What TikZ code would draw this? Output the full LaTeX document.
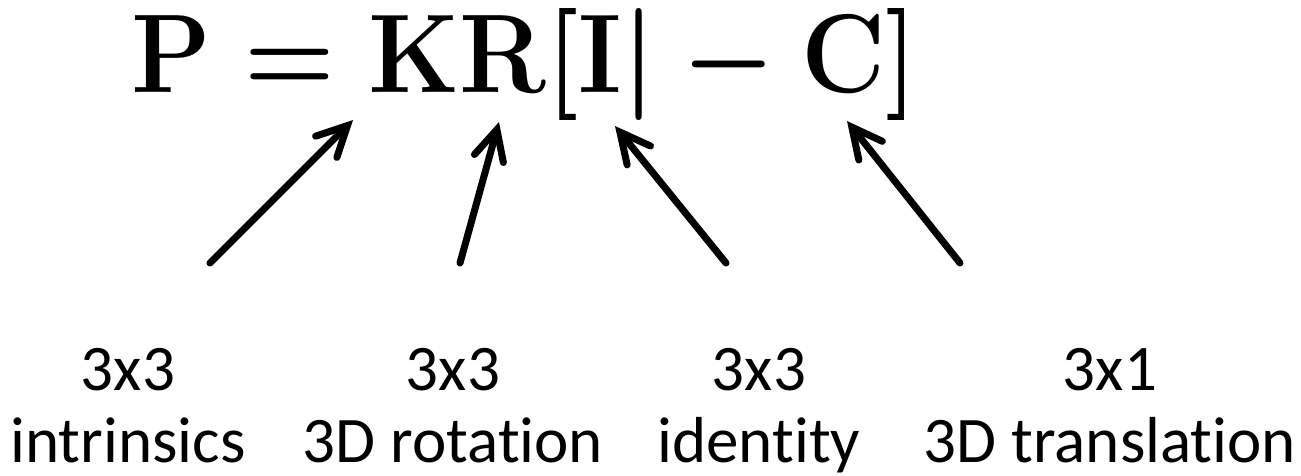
\RequirePackage{fix-cm}
\documentclass[tikz,border=0pt]{standalone}
\usepackage{amsmath}
\usepackage{fontspec}
\usetikzlibrary{arrows.meta,positioning,calc}
\newfontfamily\labelfont[Ligatures=NoCommon]{Carlito}
\tikzstyle{dim} = [font=\labelfont\fontsize{18.5}{20.5}\selectfont,
    align=center, inner sep=0pt, anchor=north]
\tikzstyle{pointer} = [-{Straight Barb[length=0.3cm, width=0.3cm, line cap=round]},
    line width=2pt, line cap=round]

\begin{document}
\begin{tikzpicture}
  \useasboundingbox (0,0) rectangle (13.01,-4.75);
  \node[inner sep=0pt, anchor=base west, yscale=1.08, transform shape,
        font=\fontsize{29.5}{34}\selectfont\boldmath] (eq) at (1.31,-0.92)
    {$\mathbf{P}=\mathbf{KR}[\mathbf{I}|-\mathbf{C}]$};

  \node[dim] (intr) at (1.28,-3.48) {3x3\\intrinsics};
  \node[dim] (rot) at (4.53,-3.48) {3x3\\3D rotation};
  \node[dim] (iden) at (7.59,-3.48) {3x3\\identity};
  \node[dim] (trans) at (11.10,-3.48) {3x1\\3D translation};

  \coordinate (k) at (3.53,-1.20);
  \coordinate (r) at (4.99,-1.22);
  \coordinate (i) at (6.15,-1.26);
  \coordinate (c) at (8.47,-1.21);
  \coordinate (k0) at (2.10,-2.63);
  \coordinate (r0) at (4.60,-2.63);
  \coordinate (i0) at (7.26,-2.63);
  \coordinate (c0) at (9.60,-2.63);

  \draw[pointer] (k0) -- (k);
  \draw[pointer] (r0) -- (r);
  \draw[pointer] (i0) -- (i);
  \draw[pointer] (c0) -- (c);
\end{tikzpicture}
\end{document}
